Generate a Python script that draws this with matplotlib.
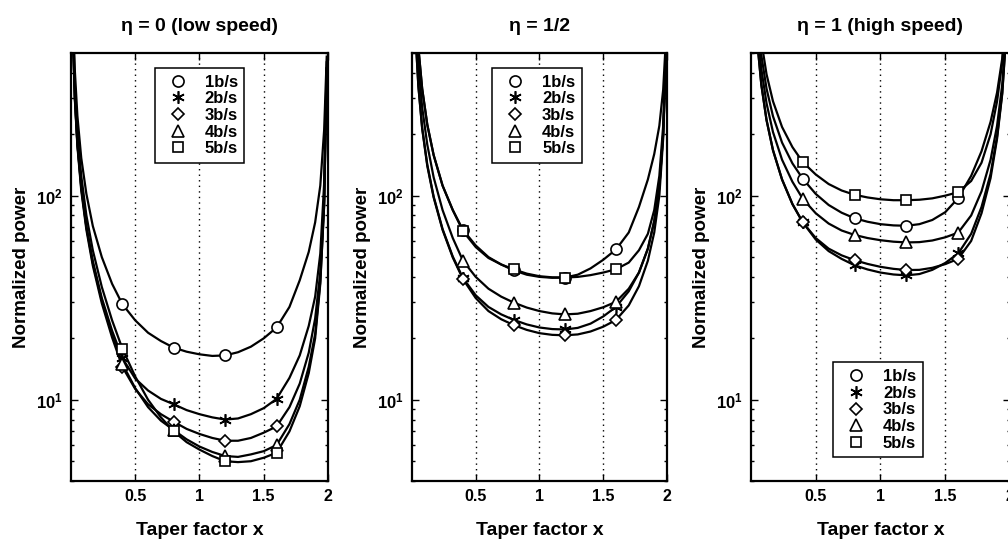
import matplotlib
matplotlib.use("Agg")
import matplotlib.pyplot as plt
from matplotlib.ticker import FixedLocator, LogLocator, NullFormatter

plt.rcParams["font.family"] = ["Liberation Sans", "DejaVu Sans"]
plt.rcParams["mathtext.fontset"] = "custom"
plt.rcParams["mathtext.bf"] = "Liberation Sans:bold"
plt.rcParams["mathtext.rm"] = "Liberation Sans"

# taper factor grid shared by every curve
X = [0.015, 0.03, 0.05, 0.08, 0.12, 0.17, 0.24, 0.32, 0.4, 0.5, 0.6, 0.7, 0.8, 0.9,
     1.0, 1.1, 1.2, 1.3, 1.4, 1.5, 1.6, 1.7, 1.78, 1.85, 1.9, 1.94, 1.97, 1.99]
MARK_X = [0.4, 0.8, 1.2, 1.6]
RATES = ["1b/s", "2b/s", "3b/s", "4b/s", "5b/s"]
MARKERS = ["o", (6, 2, 0), "D", "^", "s"]
MARKER_SIZES = [8, 9, 6.5, 8.5, 7.5]
TITLES = ["\u03b7 = 0 (low speed)", "\u03b7 = 1/2", "\u03b7 = 1 (high speed)"]

# normalized power, one row per bit rate (1..5 b/s)
ETA_0 = [
    [825, 412, 246, 153, 102, 71, 50, 37, 29.4, 24.5, 21.3, 19.4, 18.0, 17.2,
     16.7, 16.4, 16.5, 17.1, 18.2, 20.0, 22.6, 28.5, 38.5, 53, 74, 112, 210, 480],
    [620, 306, 180, 112, 71, 47.8, 31.5, 21.8, 16.0, 12.7, 11.1, 10.1, 9.5, 8.9,
     8.5, 8.2, 8.0, 8.1, 8.5, 9.1, 10.1, 12.8, 16.5, 23, 32, 52, 115, 450],
    [602, 297, 175, 106, 68, 45.4, 29.7, 20.2, 14.5, 11.3, 9.5, 8.5, 7.8, 7.2,
     6.8, 6.5, 6.3, 6.3, 6.5, 6.9, 7.4, 9.2, 12, 17, 25, 42, 95, 420],
    [618, 305, 179, 109, 70, 46.8, 30.7, 20.9, 15.0, 11.4, 9.2, 7.9, 7.1, 6.4,
     5.9, 5.55, 5.3, 5.25, 5.4, 5.6, 6.0, 7.6, 10, 14.5, 21, 38, 90, 420],
    [706, 348, 205, 125, 80, 54, 35.7, 24.5, 17.8, 13.0, 10.0, 8.2, 7.0, 6.2,
     5.7, 5.3, 5.0, 4.95, 5.0, 5.2, 5.5, 7.0, 9.3, 13.5, 20, 37, 90, 420],
]
ETA_HALF = [
    [1775, 888, 533, 334, 223, 158, 112, 85, 68, 57, 50, 46, 43, 41,
     40, 39.6, 39.7, 41, 44, 48.5, 54.5, 66, 88, 120, 160, 220, 330, 560],
    [1169, 582, 347, 215, 142, 99, 68.6, 50.3, 39.5, 32.5, 28.5, 26.2, 24.6, 23.4,
     22.6, 22.2, 22.1, 22.5, 23.6, 25.6, 28.5, 34, 42, 55, 75, 110, 200, 450],
    [1160, 578, 344, 213, 140, 98, 68, 49.8, 39.0, 31.5, 27.2, 24.8, 23.2, 22.0,
     21.2, 20.8, 20.7, 20.9, 21.6, 22.8, 24.6, 29, 36, 48, 66, 100, 190, 440],
    [1479, 736, 438, 271, 178, 123, 85, 62, 48, 40, 35, 32, 29.9, 28.3,
     27.2, 26.5, 26.2, 26.4, 27.2, 28.4, 30.2, 35, 42, 55, 75, 110, 200, 450],
    [1775, 888, 533, 334, 223, 158, 112, 85, 67, 56, 49.5, 46, 43.5, 41.5,
     40.3, 39.8, 39.7, 40, 40.8, 42, 43.6, 47, 54, 65, 85, 125, 220, 480],
]
ETA_1 = [
    [2476, 1253, 763, 488, 335, 245, 182, 144, 121, 102, 90, 82.5, 77.5, 74.5,
     72.5, 71.5, 71.2, 72.5, 76, 83, 97.3, 125, 165, 230, 320, 470, 800, 1500],
    [1845, 925, 557, 350, 235, 167, 120, 91, 74, 61, 53.5, 49, 45.6, 43.5,
     42, 41.1, 40.7, 41.3, 43.3, 46.8, 52.1, 65, 88, 128, 195, 320, 620, 1300],
    [1845, 925, 557, 350, 235, 167, 120, 91, 74, 62, 55, 51, 48.3, 46.3,
     44.8, 43.8, 43.2, 43.3, 44.3, 46.2, 49.0, 60, 82, 122, 190, 315, 610, 1300],
    [2156, 1086, 658, 418, 284, 205, 150, 117, 96.5, 82, 73, 67.5, 64.2, 62,
     60.5, 59.5, 59, 59.2, 60.3, 62.5, 65.9, 80, 105, 150, 220, 350, 640, 1300],
    [2880, 1460, 892, 572, 394, 290, 217, 173, 146, 127, 114, 106, 101, 98,
     96, 95, 95, 95.5, 97, 100, 104, 118, 145, 200, 290, 450, 780, 1500],
]
PANELS = [ETA_0, ETA_HALF, ETA_1]

# axes rectangles in figure fractions
RECTS = [
    (0.0704, 0.1158, 0.255, 0.7868),
    (0.4087, 0.1158, 0.253, 0.7868),
    (0.7450, 0.1158, 0.257, 0.7868),
]
LEGEND_LOC = [
    ("upper center", (0.50, 0.965)),
    ("upper center", (0.49, 0.965)),
    ("lower center", (0.49, 0.055)),
]

fig = plt.figure(figsize=(10.08, 5.44), dpi=100)
mark_idx = [X.index(m) for m in MARK_X]

for rect, series, title, (loc, anchor) in zip(RECTS, PANELS, TITLES, LEGEND_LOC):
    ax = fig.add_axes(rect)
    ax.set_yscale("log")
    for vals, mk, ms, rate in zip(series, MARKERS, MARKER_SIZES, RATES):
        ax.plot(X, vals, color="black", lw=1.6, zorder=3)
        ax.plot([X[i] for i in mark_idx], [vals[i] for i in mark_idx],
                ls="none", marker=mk, ms=ms, mfc="white", mec="black",
                mew=1.2, label=rate, zorder=4)
    ax.set_xlim(0, 2)
    ax.set_ylim(4, 500)

    ax.xaxis.set_major_locator(FixedLocator([0.5, 1.0, 1.5, 2.0]))
    ax.set_xticklabels(["0.5", "1", "1.5", "2"], fontweight="bold", fontsize=11.5)
    ax.yaxis.set_major_locator(FixedLocator([10, 100]))
    ax.set_yticklabels([r"$\mathbf{10^{1}}$", r"$\mathbf{10^{2}}$"], fontsize=12)
    ax.yaxis.set_minor_locator(LogLocator(base=10, subs=range(2, 10)))
    ax.yaxis.set_minor_formatter(NullFormatter())
    ax.tick_params(which="both", direction="in", top=True, right=True, width=1.0)
    ax.tick_params(which="major", length=5, pad=6)
    ax.tick_params(which="minor", length=2.5)
    ax.grid(True, axis="x", which="major", color="black", ls=(0, (1, 3)), lw=1.0)
    for sp in ax.spines.values():
        sp.set_linewidth(1.6)

    ax.set_title(title, fontsize=14, fontweight="bold", pad=16)
    ax.set_xlabel("Taper factor x", fontsize=14, fontweight="bold", labelpad=13)
    ax.set_ylabel("Normalized power", fontsize=13.5, fontweight="bold", labelpad=4)

    leg = ax.legend(loc=loc, bbox_to_anchor=anchor, numpoints=1, handlelength=2.0,
                    handletextpad=0.6, labelspacing=0.1, borderpad=0.4,
                    borderaxespad=0, fancybox=False, framealpha=1,
                    edgecolor="black", prop={"weight": "bold", "size": 12})
    leg.get_frame().set_linewidth(1.1)
    leg.set_zorder(10)

fig.savefig("out.png", dpi=100)
